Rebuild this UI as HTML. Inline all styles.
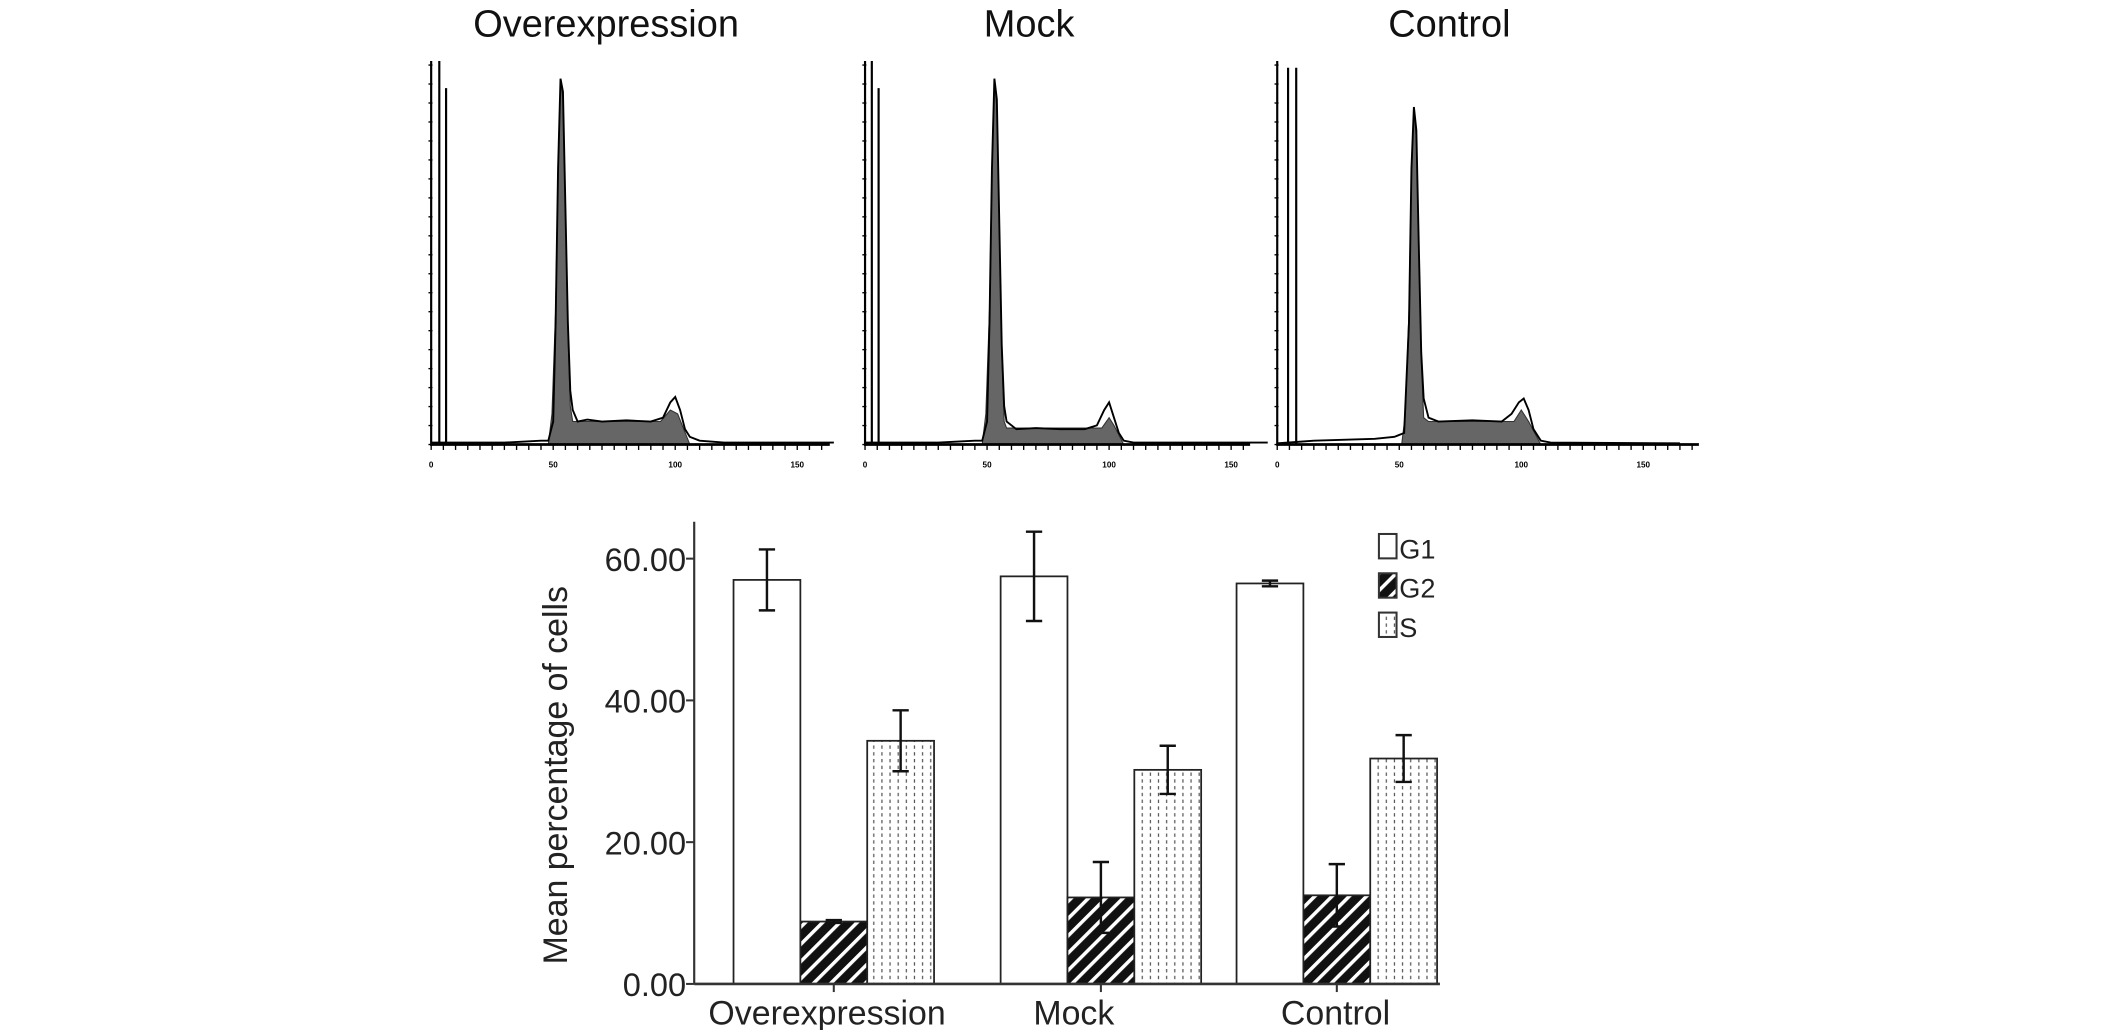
<!DOCTYPE html>
<html><head><meta charset="utf-8"><style>
html,body{margin:0;padding:0;background:#fff;}
svg{display:block;font-family:"Liberation Sans",Arial,sans-serif;}
</style></head><body>
<svg id="fig" width="2126" height="1030" viewBox="0 0 1568 760" preserveAspectRatio="none" xmlns="http://www.w3.org/2000/svg">
<defs>
<pattern id="hatch" patternUnits="userSpaceOnUse" width="9" height="9" patternTransform="rotate(45)">
<rect width="9" height="9" fill="#111"/><rect x="0" y="0" width="2.6" height="9" fill="#fff"/>
</pattern>
<pattern id="dots" patternUnits="userSpaceOnUse" width="6" height="5">
<rect width="6" height="5" fill="#fff"/><rect x="2" y="0" width="0.9" height="2.5" fill="#555"/>
</pattern>
</defs>
<g id="hist"></g>
<g id="bars"></g>
</svg>
<script>
// ---------- Histogram data ----------
const panelTitles = ["Overexpression","Mock","Control"];
const histTickLabels = ["0","50","100","150"];
const histTickValues = [0,50,100,150];
// fitted (gray) curves: [channel, count]
const fit1 = [[48,0],[49.5,8],[51,35],[52,72],[53,95],[54,90],[55,62],[56,30],[57,10],[58,6],[94,6],[98,9],[101,8],[106,0]];
const fit2 = [[48,0],[49.5,8],[51,35],[52,72],[53,95],[54,88],[55,58],[56,24],[57,6],[58,4.3],[97,4.3],[100,7],[102,5],[106,0]];
const fit3 = [[51,0],[52.5,8],[54,35],[55,72],[56,87],[57,80],[58,52],[59,22],[60,7],[62,6],[97,6],[100,9],[103,6],[108,0]];
// raw (outline) data
const raw1 = [[0,0.5],[30,0.5],[45,1],[48,1],[50,6],[51,32],[52,72],[53,95.4],[54,92],[55,62],[56,32],[57,14],[58,9],[60,6],[64,6.5],[70,6],[80,6.3],[90,6],[95,7],[98,11],[100,12.4],[102,9],[104,4],[106,2],[110,1],[120,0.5],[165,0.5]];
const raw2 = [[0,0.5],[30,0.5],[45,1],[48,1],[50,6],[51,32],[52,72],[53,95.4],[54,90],[55,58],[56,26],[57,10],[58,6],[62,4],[70,4.3],[80,4],[90,4],[95,5],[98,9],[100,11],[102,7],[104,3],[106,1],[110,0.5],[165,0.5]];
const raw3 = [[0,0.3],[15,1],[30,1.3],[40,1.5],[48,2],[52,3],[54,32],[55,72],[56,88],[57,82],[58,52],[59,24],[60,12],[62,7],[66,6],[80,6.3],[92,6],[96,8],[99,11],[101,12],[103,9],[105,4],[108,1],[112,0.5],[165,0.3]];
const fits = [fit1,fit2,fit3];
const raws = [raw1,raw2,raw3];
const panelX = [318,638,942];
const panelW = [294,284,311];
const leftSpikes = [[324,329],[643,648],[950,956]];
const spikeTop = [45,45,50];

// ---------- Bar chart data ----------
const groups = ["Overexpression","Mock","Control"];
const series = ["G1","G2","S"];
const g1Vals = [57.0,57.5,56.5];
const g2Vals = [8.8,12.2,12.5];
const sVals = [34.3,30.2,31.8];
const g1Err = [4.3,6.3,0.4];
const g2Err = [0.2,5.0,4.4];
const sErr = [4.3,3.4,3.3];
const yTicks = [0,20,40,60];
const yTickLabels = ["0.00","20.00","40.00","60.00"];

const NS="http://www.w3.org/2000/svg";
function mk(tag,attrs,parent){const e=document.createElementNS(NS,tag);for(const k in attrs)e.setAttribute(k,attrs[k]);parent.appendChild(e);return e;}

// ---------- draw histograms ----------
const hist=document.getElementById('hist');
const base=328, top0=45;
function cy(c){return base-(c/100)*(base-top0);}
const titleX=[447,759,1069];
for(let p=0;p<3;p++){
  const x0=panelX[p];
  const cx=ch=>x0+ch*1.8;
  const g=mk('g',{},hist);
  
  
  const t=mk('text',{x:titleX[p],y:27,'font-size':28,'text-anchor':'middle',fill:'#111'},g);
  t.textContent=panelTitles[p];
  
  
  const ya=mk('line',{x1:x0,y1:top0,x2:x0,y2:base+1,stroke:'#000','stroke-width':1.6},g);
  
  
  for(let i=0;i<=20;i++){const yy=base-i*14;mk('line',{x1:x0-2,y1:yy,x2:x0+1,y2:yy,stroke:'#000','stroke-width':1},g);}
  let d='M'+cx(fits[p][0][0])+','+base;
  fits[p].forEach(pt=>{d+=' L'+cx(pt[0])+','+cy(pt[1]);});
  d+=' L'+cx(fits[p][fits[p].length-1][0])+','+base+' Z';
  const f=mk('path',{d:d,fill:'#666',stroke:'#333','stroke-width':0.8},g);
  
  
  let d2='';
  raws[p].forEach((pt,i)=>{d2+=(i?' L':'M')+cx(pt[0])+','+cy(pt[1]);});
  const r=mk('path',{d:d2,fill:'none',stroke:'#000','stroke-width':1.4},g);
  
  
  leftSpikes[p].forEach((sx,i)=>{mk('line',{x1:sx,y1:spikeTop[p]+(i?p===2?0:20:0),x2:sx,y2:base,stroke:'#000','stroke-width':1.6},g);});
  const xa=mk('line',{x1:x0,y1:base,x2:x0+panelW[p],y2:base,stroke:'#000','stroke-width':2},g);
  
  
  for(let i=0;i<=panelW[p]/9;i++){mk('line',{x1:x0+i*9,y1:base,x2:x0+i*9,y2:base+4,stroke:'#000','stroke-width':1},g);}
  histTickValues.forEach((v,i)=>{
    const tx=mk('text',{x:cx(v),y:base+17,'font-size':6,'font-weight':'bold','text-anchor':'middle',fill:'#000'},g);
    tx.textContent=histTickLabels[i];
    
    
  });
}

// ---------- bar chart ----------
const bars=document.getElementById('bars');
const AX=512, BASE=726, PPU=5.23;
const y=v=>BASE-v*PPU;
const groupStart=[541,738,912];
const BW=49.3;
const x=(gi,si)=>groupStart[gi]+si*BW;
const vals=[g1Vals,g2Vals,sVals], errs=[g1Err,g2Err,sErr];
const fills=['#fff','url(#hatch)','url(#dots)'];
for(let si=0;si<3;si++){
  for(let gi=0;gi<3;gi++){
    const v=vals[si][gi];
    const b=mk('rect',{x:x(gi,si),y:y(v),width:BW,height:v*PPU,fill:fills[si],stroke:'#222','stroke-width':1.3},bars);
    
    
  }
}
for(let si=0;si<3;si++){
  for(let gi=0;gi<3;gi++){
    const v=vals[si][gi], e=errs[si][gi], mx=x(gi,si)+BW/2;
    const eg=mk('g',{stroke:'#111','stroke-width':1.8},bars);
    
    
    mk('line',{x1:mx,y1:y(v+e),x2:mx,y2:y(v-e)},eg);
    mk('line',{x1:mx-6,y1:y(v+e),x2:mx+6,y2:y(v+e)},eg);
    mk('line',{x1:mx-6,y1:y(v-e),x2:mx+6,y2:y(v-e)},eg);
  }
}
const yax=mk('line',{x1:AX,y1:385,x2:AX,y2:BASE,stroke:'#333','stroke-width':1.6},bars);


const xax=mk('line',{x1:AX,y1:BASE,x2:1062,y2:BASE,stroke:'#333','stroke-width':2},bars);


yTicks.forEach((v,i)=>{
  mk('line',{x1:AX-6,y1:y(v),x2:AX,y2:y(v),stroke:'#333','stroke-width':1.5},bars);
  const t=mk('text',{x:AX-6,y:y(v)+9,'font-size':24,'text-anchor':'end',fill:'#222'},bars);
  t.textContent=yTickLabels[i];
  
  
});
const labelX=[610,792,985];
groups.forEach((g,gi)=>{
  const cxm=groupStart[gi]+1.5*BW;
  mk('line',{x1:cxm,y1:BASE,x2:cxm,y2:BASE+6,stroke:'#333','stroke-width':1.5},bars);
  const t=mk('text',{x:labelX[gi],y:BASE+30,'font-size':25,'text-anchor':'middle',fill:'#222'},bars);
  t.textContent=g;
  
  
});
const yt=mk('text',{x:0,y:0,'font-size':25,'text-anchor':'middle',fill:'#222',transform:'translate(418,572) rotate(-90)'},bars);
yt.textContent='Mean percentage of cells';


const legY=[394,423,452];
series.forEach((s,si)=>{
  const lg=mk('g',{},bars);
  
  
  mk('rect',{x:1017,y:legY[si],width:13,height:18,fill:fills[si],stroke:'#333','stroke-width':1.5},lg);
  const t=mk('text',{x:1032,y:legY[si]+18,'font-size':20,fill:'#222'},lg);
  t.textContent=s;
});
</script>
</body></html>
